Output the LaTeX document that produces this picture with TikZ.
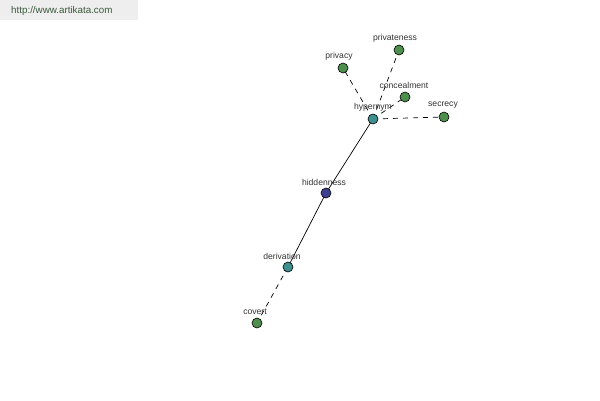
\documentclass[tikz,border=0pt]{standalone}
\usepackage{fontspec}
\setmainfont{Liberation Sans}
\definecolor{ngreen}{HTML}{4E8F4E}
\definecolor{nteal}{HTML}{3F8F8F}
\definecolor{nblue}{HTML}{3F3F8F}
\definecolor{lbl}{HTML}{333333}
\definecolor{bannerbg}{HTML}{EEEEEE}
\definecolor{bannertx}{HTML}{3A5A3A}
\tikzset{
  dot/.style={circle,draw=black,line width=0.6pt,minimum size=10pt,inner sep=0pt},
  lab/.style={font=\fontsize{8.6}{9}\selectfont,text=lbl,inner sep=0pt},
  rel/.style={line width=0.7pt},
  reldash/.style={line width=0.7pt,dash pattern=on 5pt off 5pt},
}
\begin{document}
\begin{tikzpicture}[x=1pt,y=-1pt]
\useasboundingbox (0,0) rectangle (600,400);
\fill[white] (0,0) rectangle (600,400);
\fill[bannerbg] (0,0) rectangle (138,20);
\node[font=\fontsize{9.8}{11}\selectfont,text=bannertx,anchor=west,inner sep=0pt] (url) at (11,11) {http://www.artikata.com};
% edges
\coordinate (chyp) at (373,119);
\coordinate (cprivacy) at (343,68);
\coordinate (cprivateness) at (399,50);
\coordinate (cconceal) at (405,97);
\coordinate (csecrecy) at (444,117);
\coordinate (chid) at (326,193);
\coordinate (cder) at (288,267);
\coordinate (ccovert) at (257,323);
\draw[reldash] (chyp) -- (cprivacy);
\draw[reldash] (chyp) -- (cprivateness);
\draw[reldash] (chyp) -- (cconceal);
\draw[reldash] (chyp) -- (csecrecy);
\draw[rel] (chyp) -- (chid);
\draw[rel] (chid) -- (cder);
\draw[reldash] (cder) -- (ccovert);
% nodes
\node[dot,fill=nteal] (hyp) at (chyp) {};
\node[dot,fill=ngreen] (privacy) at (cprivacy) {};
\node[dot,fill=ngreen] (privateness) at (cprivateness) {};
\node[dot,fill=ngreen] (conceal) at (cconceal) {};
\node[dot,fill=ngreen] (secrecy) at (csecrecy) {};
\node[dot,fill=nblue] (hid) at (chid) {};
\node[dot,fill=nteal] (der) at (cder) {};
\node[dot,fill=ngreen] (covert) at (ccovert) {};
% labels
\node[lab] (lhyp) at (373,107) {hypernym};
\node[lab] (lprivacy) at (339,56) {privacy};
\node[lab] (lprivateness) at (395,38) {privateness};
\node[lab] (lconceal) at (404,85) {concealment};
\node[lab] (lsecrecy) at (443,105) {secrecy};
\node[lab] (lhid) at (324,182) {hiddenness};
\node[lab] (lder) at (282,256) {derivation};
\node[lab] (lcovert) at (255,312) {covert};
\end{tikzpicture}
\end{document}
